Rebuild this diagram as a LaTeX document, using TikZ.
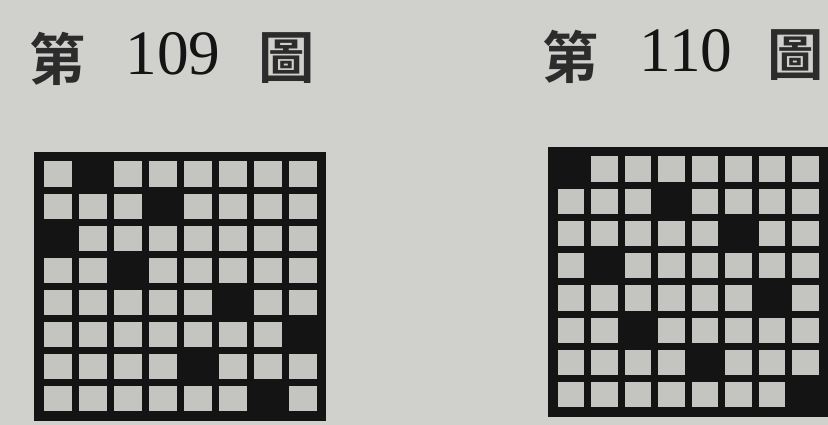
\documentclass[tikz,border=0pt]{standalone}
\usepackage{fontspec}
\setmainfont{Liberation Serif}
\newfontfamily\cjk[BoldFont={Noto Sans CJK TC Bold}]{Noto Sans CJK TC}
\usepackage{xcolor}
\definecolor{paper}{RGB}{208,208,205}
\definecolor{cellgray}{RGB}{196,196,193}
\definecolor{ink}{RGB}{20,20,20}
% one board: #1 = name, #2/#3 = top-left corner, #4/#5 = width/height,
% #6 = list row/col of the black squares
\newcommand{\queenboard}[6]{%
  \fill[ink] (#2,#3) rectangle ++(#4,#5);
  \pgfmathsetmacro{\pw}{(#4-12)/8}
  \pgfmathsetmacro{\ph}{(#5-12)/8}
  \foreach \r in {0,...,7}{
    \foreach \c in {0,...,7}{
      \fill[sqr] ({#2+6+\c*\pw+3.5},{#3+6+\r*\ph+3.5})
        rectangle ({#2+6+(\c+1)*\pw-3.5},{#3+6+(\r+1)*\ph-3.5});
    }
  }
  \foreach \r/\c in {#6}{
    \fill[blk] ({#2+6+\c*\pw+3},{#3+6+\r*\ph+3})
      rectangle ({#2+6+(\c+1)*\pw-3},{#3+6+(\r+1)*\ph-3});
  }
  \coordinate (#1) at (#2,#3);
}

\begin{document}
\begin{tikzpicture}[x=0.25mm, y=-0.25mm,
  sqr/.style={fill=cellgray},
  blk/.style={fill=ink},
  han/.style={font=\cjk\bfseries\fontsize{40}{40}\selectfont, text=ink!90, inner sep=0pt},
  num/.style={font=\fontsize{45}{45}\selectfont, text=ink, inner sep=0pt},
]
  \fill[paper] (0,0) rectangle (828,425);
  \useasboundingbox (0,0) rectangle (828,425);

  % captions
  \node[han] (d109) at (58,59) {第};
  \node[num] (n109) at (173,54) {109};
  \node[han] (t109) at (287,58) {圖};
  \node[han] (d110) at (571,57) {第};
  \node[num] (n110) at (686,51) {110};
  \node[han] (t110) at (796,55) {圖};

  % boards
  \queenboard{b109}{34}{152}{292}{269}
    {0/1, 1/3, 2/0, 3/2, 4/5, 5/7, 6/4, 7/6}
  \queenboard{b110}{548}{147}{280}{270}
    {0/0, 1/3, 2/5, 3/1, 4/6, 5/2, 6/4, 7/7}
\end{tikzpicture}
\end{document}
